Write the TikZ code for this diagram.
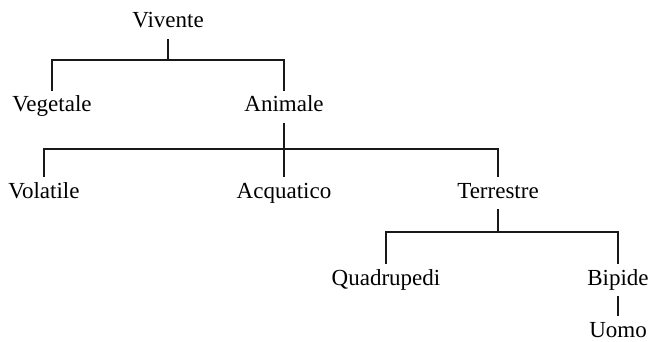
\documentclass[tikz,border=0pt]{standalone}
\usepackage{fontspec}
\setmainfont{Liberation Serif}
\begin{document}
\begin{tikzpicture}[x=1pt,y=-1pt,
  lbl/.style={anchor=base,inner xsep=2pt,inner ysep=6pt,text height=15pt,text depth=5pt,
    font=\fontsize{23}{27}\selectfont},
  conn/.style={draw=black!90,line width=2.1pt,line join=miter}]
\useasboundingbox (0,0) rectangle (651,342);
\node[lbl] (viv) at (168,28) {Vivente};
\node[lbl] (veg) at (52,112) {Vegetale};
\node[lbl] (ani) at (284,112) {Animale};
\node[lbl] (vol) at (44,198) {Volatile};
\node[lbl] (acq) at (284,198) {Acquatico};
\node[lbl] (ter) at (498,198) {Terrestre};
\node[lbl] (qua) at (386,285) {Quadrupedi};
\node[lbl] (bip) at (618,285) {Bipide};
\node[lbl] (uom) at (618,337) {Uomo};
\coordinate (b1) at (168,60);
\coordinate (b2) at (284,149);
\coordinate (b3) at (498,232);
\draw[conn] (viv.south) -- (b1);
\draw[conn] (veg.north) |- (b1) -| (ani.north);
\draw[conn] (ani.south) -- (b2);
\draw[conn] (vol.north) |- (b2) -| (ter.north);
\draw[conn] (b2) -- (acq.north);
\draw[conn] (ter.south) -- (b3);
\draw[conn] (qua.north) |- (b3) -| (bip.north);
\draw[conn] (bip.south) -- (uom.north);
\end{tikzpicture}
\end{document}
